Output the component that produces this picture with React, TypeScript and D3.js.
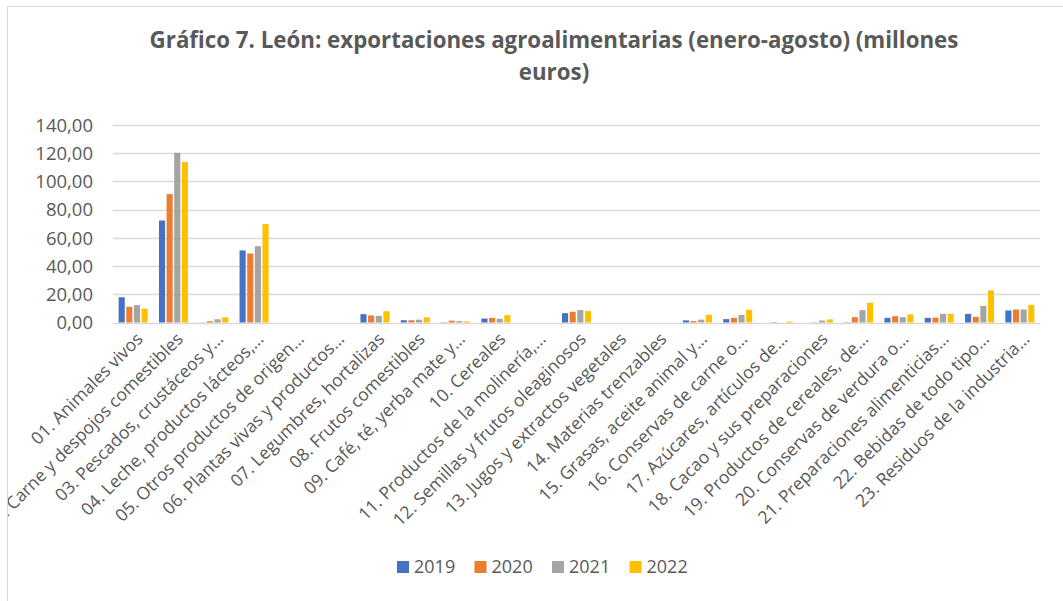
import React from 'react';
import * as d3 from 'd3';

const categories = [
  '01. Animales vivos',
  '02. Carne y despojos comestibles',
  '03. Pescados, crustáceos y…',
  '04. Leche, productos lácteos,…',
  '05. Otros productos de origen…',
  '06. Plantas vivas y productos…',
  '07. Legumbres, hortalizas',
  '08. Frutos comestibles',
  '09. Café, té, yerba mate y…',
  '10. Cereales',
  '11. Productos de la molinería,…',
  '12. Semillas y frutos oleaginosos',
  '13. Jugos y extractos vegetales',
  '14. Materias trenzables',
  '15. Grasas, aceite animal y…',
  '16. Conservas de carne o…',
  '17. Azúcares, artículos de…',
  '18. Cacao y sus preparaciones',
  '19. Productos de cereales, de…',
  '20. Conservas de verdura o…',
  '21. Preparaciones alimenticias…',
  '22. Bebidas de todo tipo…',
  '23. Residuos de la industria…',
];

const years = ['2019', '2020', '2021', '2022'];
const colors = ['#4472c4', '#ed7d31', '#a5a5a5', '#ffc000'];

const v2019 = [17.9, 72.3, 0.1, 51.1, 0, 0, 5.9, 1.6, 0.2, 2.8, 0, 6.6, 0, 0, 1.5, 2.4, 0, 0, 0.2, 3.3, 3.3, 6.1, 8.5];
const v2020 = [11.1, 91.0, 0.9, 48.9, 0, 0, 5.0, 1.6, 1.3, 3.3, 0, 7.6, 0, 0, 1.0, 3.3, 0.3, 0.2, 3.8, 4.5, 3.5, 4.0, 9.2];
const v2021 = [12.3, 120.3, 2.3, 54.1, 0, 0, 4.7, 2.0, 1.0, 2.6, 0, 8.8, 0, 0, 2.0, 5.4, 0, 1.4, 8.8, 3.8, 6.1, 11.8, 9.2];
const v2022 = [9.9, 113.7, 3.7, 69.7, 0, 0, 8.0, 3.7, 0.8, 5.2, 0, 8.1, 0, 0, 5.4, 9.0, 0.7, 2.2, 14.0, 5.7, 6.1, 22.7, 12.5];
const series = [v2019, v2020, v2021, v2022];

const yTicks = [0, 20, 40, 60, 80, 100, 120, 140];

const W = 1063;
const H = 601;
const plot = { left: 113, right: 1040, top: 125, bottom: 322.5 };
const textColor = '#595959';
const font = '"Open Sans", "Noto Sans", sans-serif';

export default function App() {
  const x0 = d3.scaleBand<string>()
    .domain(categories)
    .range([plot.left, plot.right])
    .paddingInner(0.28)
    .paddingOuter(0.14);

  const x1 = d3.scaleBand<string>()
    .domain(years)
    .range([0, x0.bandwidth()])
    .paddingInner(0.2);

  const y = d3.scaleLinear().domain([0, 140]).range([plot.bottom, plot.top]);
  const fmt = (d: number) => d3.format('.2f')(d).replace('.', ',');

  return (
    <svg width={W} height={H} style={{ position: 'absolute', left: 0, top: 0, background: '#fff' }} fontFamily={font}>
      <defs>
        <clipPath id="chartClip">
          <rect x={8} y={7} width={W} height={H} />
        </clipPath>
      </defs>
      <rect x={7.5} y={6.5} width={W + 10} height={H + 10} fill="#fff" stroke="#d9d9d9" />

      <text x={554} y={48} textAnchor="middle" fontSize={22.3} fontWeight="bold" fill={textColor}>
        Gráfico 7. León: exportaciones agroalimentarias (enero-agosto) (millones
      </text>
      <text x={554} y={80} textAnchor="middle" fontSize={22.3} fontWeight="bold" fill={textColor}>
        euros)
      </text>

      {/* gridlines and y labels */}
      {yTicks.map(t => (
        <g key={t}>
          <line x1={plot.left} x2={plot.right} y1={Math.round(y(t)) + 0.5} y2={Math.round(y(t)) + 0.5} stroke="#d9d9d9" strokeWidth={1.3} />
          <text x={93} y={y(t)} dy="0.36em" textAnchor="end" fontSize={18.5} fill={textColor}>{fmt(t)}</text>
        </g>
      ))}

      {/* bars */}
      {categories.map((c, i) => (
        <g key={c} transform={`translate(${x0(c)},0)`}>
          {series.map((s, j) => (
            <rect key={years[j]} x={x1(years[j])} width={x1.bandwidth()} y={y(s[i])} height={plot.bottom - y(s[i])} fill={colors[j]} />
          ))}
        </g>
      ))}

      {/* category labels */}
      <g clipPath="url(#chartClip)">
        {categories.map(c => {
          const cx = (x0(c) ?? 0) + x0.bandwidth() / 2;
          return (
            <text key={c} transform={`translate(${cx + 2},${plot.bottom + 9}) rotate(-45)`} textAnchor="end" dy="0.7em" fontSize={17.5} fill={textColor}>
              {c}
            </text>
          );
        })}
      </g>

      {/* legend */}
      {years.map((yr, j) => (
        <g key={yr} transform={`translate(${397 + j * 77.5},561)`}>
          <rect width={12} height={12} fill={colors[j]} />
          <text x={17} y={6} dy="0.36em" fontSize={18} fill={textColor}>{yr}</text>
        </g>
      ))}
    </svg>
  );
}
